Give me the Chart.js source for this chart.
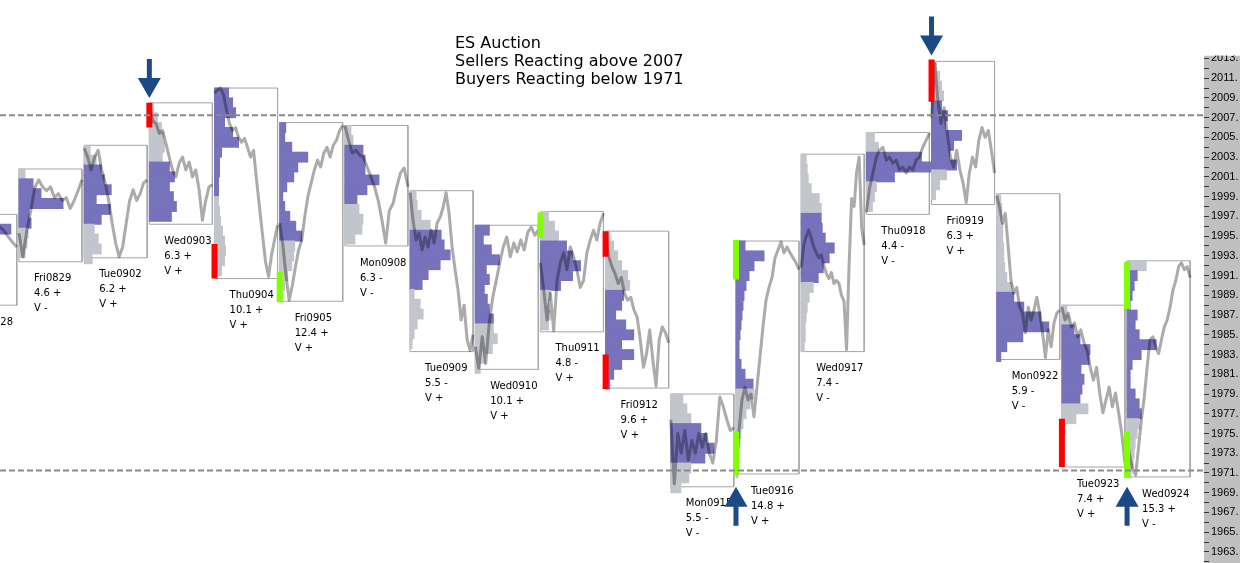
<!DOCTYPE html>
<html>
<head>
<meta charset="utf-8">
<script src="https://cdn.jsdelivr.net/npm/chart.js@4.4.0/dist/chart.umd.min.js"></script>
<style>
html, body { margin: 0; padding: 0; background: #fff; }
#wrap { position: relative; width: 1240px; height: 563px; }
#title { position: absolute; left: 455px; top: 34px; font: 16px/18px "DejaVu Sans", sans-serif; color: #000; }
</style>
</head>
<body>
<div id="wrap">
  <canvas id="auctionChart"></canvas>
  <div id="title">ES Auction<br>Sellers Reacting above 2007<br>Buyers Reacting below 1971</div>
</div>
<script>
// sessions (x = session index, box left edge)
const days = ['Thu0828','Fri0829','Tue0902','Wed0903','Thu0904','Fri0905','Mon0908','Tue0909','Wed0910','Thu0911',
              'Fri0912','Mon0915','Tue0916','Wed0917','Thu0918','Fri0919','Mon0922','Tue0923','Wed0924'];
const ranges = ['', '4.6 +', '6.2 +', '6.3 +', '10.1 +', '12.4 +', '6.3 -', '5.5 -', '10.1 +', '4.8 -',
                '9.6 +', '5.5 -', '14.8 +', '7.4 -', '4.4 -', '6.3 +', '5.9 -', '7.4 +', '15.3 +'];
const volumes = ['', 'V -', 'V +', 'V +', 'V +', 'V +', 'V -', 'V +', 'V +', 'V +',
                 'V +', 'V -', 'V +', 'V -', 'V -', 'V +', 'V -', 'V +', 'V -'];

const highs = [1997.2, 2001.8, 2004.2, 2008.5, 2010.0, 2006.5, 2006.2, 1999.6, 1996.1, 1997.5,
               1995.5, 1979.0, 1994.5, 2003.3, 2005.5, 2012.7, 1999.3, 1988.0, 1992.5];
const lows = [1988.0, 1992.4, 1992.8, 1996.2, 1990.7, 1988.4, 1994.0, 1983.3, 1981.5, 1985.3,
              1979.6, 1969.6, 1970.9, 1983.3, 1997.2, 1998.2, 1982.5, 1971.6, 1970.6];

// volume profile, one row per point from the high down
const profiles = [
  [25, 57, 30, 28, 22, 18, 12, 8, 4],
  [6, 14, 22, 44, 10, 12, 9, 8, 6],
  [6, 12, 17, 20, 27, 12, 26, 17, 10, 14, 17, 8],
  [4, 8, 12, 14, 15, 13, 20, 25, 20, 24, 27, 22],
  [14, 18, 21, 10, 18, 24, 7, 5, 5, 4, 4, 4, 5, 6, 8, 10, 11, 10, 7],
  [6, 5, 12, 28, 18, 14, 7, 3, 5, 10, 16, 22, 15, 14, 12, 8, 5, 3],
  [6, 8, 18, 20, 20, 34, 22, 12, 14, 18, 17, 10],
  [6, 7, 11, 20, 31, 34, 40, 30, 18, 12, 4, 10, 13, 7, 4, 2],
  [14, 8, 16, 24, 11, 14, 9, 12, 14, 18, 18, 22, 17, 10, 5],
  [8, 14, 18, 26, 32, 40, 32, 20, 10, 8, 10, 8],
  [4, 8, 12, 16, 22, 24, 18, 16, 10, 20, 28, 16, 28, 16, 8, 4],
  [12, 16, 20, 30, 36, 43, 34, 20, 18, 10],
  [9, 28, 18, 13, 10, 8, 7, 6, 5, 4, 3, 3, 5, 9, 17, 18, 14, 10, 7, 5, 4, 3, 3, 2],
  [5, 6, 7, 10, 18, 20, 20, 21, 24, 33, 28, 22, 17, 12, 8, 6, 5, 4, 4, 3],
  [8, 12, 55, 68, 28, 10, 8, 6],
  [5, 8, 10, 12, 10, 16, 14, 30, 22, 18, 25, 15, 8, 4],
  [4, 5, 5, 6, 6, 7, 7, 8, 10, 15, 17, 27, 44, 52, 26, 10, 4],
  [5, 7, 12, 18, 28, 27, 19, 22, 20, 18, 26, 14, 3],
  [19, 10, 7, 5, 3, 10, 8, 12, 29, 14, 5, 3, 3, 8, 12, 14, 12, 10, 8, 7, 6, 4]
];
// value area: first and last profile row inside it
const valueAreas = [[0, 6], [1, 5], [2, 7], [6, 11], [0, 10], [0, 11], [2, 7], [4, 9], [0, 9], [3, 7],
                    [6, 15], [3, 6], [0, 14], [6, 12], [2, 4], [4, 10], [10, 16], [2, 9], [1, 15]];

// intraday price path, evenly spaced across each session
const prices = [
  [null, null, null, null, null, null, null, null, null, null, 1996.0, 1995.6, 1995.0, 1994.4, 1993.9],
  [1995.3, 1992.9, 1995.6, 1997.6, 1999.9, 2000.7, 2000.0, 1999.6, 2000.0, 1998.9, 1999.3, 1998.6, 1998.9, 1997.8, 1998.6, 1999.6, 2000.7],
  [2003.9, 2003.0, 2001.7, 2003.0, 2003.7, 2001.7, 2000.4, 1998.6, 1996.3, 1994.3, 1992.9, 1993.9, 1996.3, 1998.6, 1999.7, 1998.6, 1999.3, 2000.4, 2000.7],
  [2008.3, 2006.7, 2006.4, 2005.4, 2005.7, 2004.4, 2003.0, 2001.7, 2001.0, 2002.4, 2003.0, 2001.7, 2002.5, 2001.0, 2001.7, 1999.7, 1996.6, 1998.6, 2000.0, 2000.2],
  [2009.5, 2009.8, 2010.0, 2009.3, 2007.8, 2006.4, 2005.7, 2006.0, 2005.0, 2004.5, 2004.9, 2004.0, 2003.0, 2003.7, 2000.7, 1997.9, 1995.1, 1992.4, 1990.9, 1993.1, 1994.6, 1996.1],
  [1996.3, 1994.1, 1991.0, 1988.5, 1990.0, 1991.9, 1993.6, 1994.6, 1997.1, 1999.1, 2000.4, 2001.7, 2002.7, 2002.0, 2003.4, 2004.0, 2003.0, 2004.2, 2004.7, 2005.7, 2006.2],
  [2006.2, 2004.7, 2003.4, 2003.7, 2003.2, 2003.0, 2002.0, 2001.0, 2000.0, 1998.6, 1996.6, 1994.3, 1997.6, 1998.3, 2000.0, 2001.4, 2001.9, 2000.0],
  [1999.4, 1996.6, 1994.6, 1995.3, 1993.6, 1994.9, 1993.9, 1995.6, 1994.3, 1996.3, 1996.9, 1997.9, 1999.4, 1997.3, 1993.9, 1991.6, 1989.5, 1986.5, 1988.0, 1984.5, 1983.4, 1985.0],
  [1983.8, 1981.6, 1984.8, 1982.1, 1986.2, 1988.8, 1990.5, 1992.3, 1993.9, 1994.9, 1992.9, 1994.3, 1993.4, 1994.6, 1993.6, 1995.4, 1995.9, 1995.1, 1995.6],
  [1992.3, 1989.5, 1986.5, 1989.2, 1985.4, 1990.5, 1992.3, 1993.3, 1991.6, 1993.9, 1992.9, 1991.6, 1989.8, 1990.5, 1993.3, 1994.6, 1995.6, 1994.6, 1996.3, 1997.3],
  [1995.2, 1992.9, 1991.9, 1991.2, 1990.2, 1990.8, 1989.2, 1988.5, 1988.8, 1987.5, 1986.8, 1984.5, 1981.7, 1983.1, 1985.5, 1982.4, 1979.8, 1984.5, 1985.8, 1985.2, 1984.2],
  [1976.4, 1969.9, 1975.0, 1973.0, 1975.3, 1972.3, 1974.3, 1973.0, 1975.0, 1973.6, 1975.0, 1973.0, 1972.0, 1974.3, 1978.7, 1977.7, 1976.4, 1975.3, 1975.6],
  [1971.3, 1975.3, 1978.4, 1979.7, 1978.4, 1979.0, 1976.7, 1979.7, 1982.8, 1985.8, 1988.5, 1989.8, 1990.8, 1992.8, 1993.6, 1994.4, 1993.3, 1993.9, 1993.3, 1992.8, 1992.3, 1991.6],
  [1991.8, 1994.0, 1995.0, 1995.6, 1994.8, 1993.9, 1993.3, 1992.8, 1993.1, 1992.0, 1991.2, 1990.7, 1991.3, 1990.2, 1990.5, 1990.2, 1989.0, 1988.4, 1983.5, 1992.0, 1998.8, 1998.0, 2001.5, 2003.0, 1995.8, 1994.1],
  [1997.4, 1999.9, 2001.4, 2003.0, 2003.7, 2004.0, 2002.7, 2003.0, 2002.4, 2002.7, 2001.7, 2002.0, 2001.4, 2002.0, 2001.7, 2002.7, 2003.0, 2004.0, 2004.7, 2005.4],
  [2007.0, 2012.5, 2008.8, 2006.4, 2008.0, 2005.4, 2003.0, 2002.0, 2003.7, 2001.7, 2000.4, 1998.4, 2001.4, 2003.0, 2002.0, 2004.7, 2006.0, 2005.0, 2005.7, 2003.7, 2001.4],
  [1999.1, 1997.9, 1996.3, 1997.3, 1993.9, 1990.5, 1989.2, 1989.8, 1987.8, 1987.2, 1985.2, 1987.8, 1986.5, 1987.5, 1988.8, 1987.2, 1985.2, 1982.7, 1985.5, 1983.8, 1986.2, 1987.2, 1987.5],
  [1987.8, 1986.5, 1987.2, 1985.8, 1986.2, 1984.8, 1985.5, 1984.2, 1983.4, 1981.7, 1980.4, 1981.7, 1979.1, 1977.1, 1978.4, 1979.7, 1977.7, 1979.1, 1977.1, 1975.0, 1972.0],
  [1974.3, 1972.6, 1971.3, 1970.8, 1973.6, 1976.4, 1978.7, 1981.7, 1984.5, 1984.8, 1983.8, 1983.1, 1984.5, 1985.8, 1986.5, 1987.8, 1989.5, 1990.5, 1991.9, 1992.3, 1991.6, 1991.9, 1990.8]
];

// single prints / tails at the session open
const tailDays = [3, 4, 5, 9, 10, 10, 12, 12, 15, 17, 18, 18];
const tailTops = [2008.5, 1994.2, 1991.4, 1997.4, 1995.5, 1983.0, 1994.6, 1975.2, 2012.9, 1976.5, 1992.4, 1975.2];
const tailBottoms = [2006.0, 1990.7, 1988.3, 1994.8, 1992.9, 1979.5, 1990.6, 1970.8, 2008.6, 1971.6, 1987.6, 1970.5];
const tailSides = ['sell', 'sell', 'buy', 'buy', 'sell', 'sell', 'buy', 'buy', 'sell', 'sell', 'buy', 'buy'];

const arrowDays = [3, 15, 12, 18];
const arrowTips = [2009.0, 2013.3, 1969.6, 1969.6];
const arrowDirs = ['down', 'down', 'up', 'up'];

const levels = [2007.25, 1971.25];

const X_MIN = 0.709, X_MAX = 19.18;
const Y_MIN = 1961.88, Y_MAX = 2018.92;
const BOX_W = 0.967;
const PROFILE_SCALE = 1 / 65.18;
const ROW_PX = 563 / (Y_MAX - Y_MIN);
const PANEL_TOP = 2013.3;

const datasets = [];

days.forEach((d, i) => {
  const r = i + BOX_W;
  datasets.push({
    type: 'line', order: 4,
    data: [{x: i, y: highs[i]}, {x: r, y: highs[i]}, {x: r, y: lows[i]}, {x: i, y: lows[i]}, {x: i, y: highs[i]}],
    borderColor: '#a6a6a6', borderWidth: 1
  });
});

const barData = [], barColors = [];
profiles.forEach((rows, i) => {
  rows.forEach((w, k) => {
    barData.push({y: highs[i] - 0.5 - k, x: [i, i + w * PROFILE_SCALE]});
    const inVa = k >= valueAreas[i][0] && k <= valueAreas[i][1];
    barColors.push(inVa ? '#7672bb' : '#c2c5cb');
  });
});
datasets.push({
  type: 'bar', indexAxis: 'y', order: 3,
  data: barData, backgroundColor: barColors,
  barThickness: ROW_PX, borderWidth: 0, inflateAmount: 0.5
});

prices.forEach((arr, i) => {
  const n = arr.length;
  datasets.push({
    type: 'line', order: 2, multiply: true,
    data: arr.map((p, j) => ({x: i + BOX_W * j / (n - 1), y: p})),
    borderColor: '#ababab', borderWidth: 3, borderJoinStyle: 'round'
  });
});

tailDays.forEach((d, j) => {
  datasets.push({
    type: 'line', order: 1,
    data: [{x: d, y: tailTops[j]}, {x: d, y: tailBottoms[j]}],
    borderColor: tailSides[j] === 'sell' ? '#ff0000' : '#80ff00',
    borderWidth: 6, borderCapStyle: 'butt'
  });
});

levels.forEach(v => {
  datasets.push({
    type: 'line', order: 0,
    data: [{x: X_MIN, y: v}, {x: X_MAX, y: v}],
    borderColor: '#8a8a8a', borderWidth: 2, borderDash: [6, 3]
  });
});

const isOdd = v => Math.abs(v - Math.round(v)) < 1e-6 && Math.abs(Math.round(v)) % 2 === 1;

const decor = {
  id: 'decor',
  beforeDraw(chart) {
    const {ctx, chartArea, scales: {y}} = chart;
    ctx.save();
    ctx.fillStyle = '#fff';
    ctx.fillRect(0, 0, chart.width, chart.height);
    const top = y.getPixelForValue(PANEL_TOP);
    ctx.fillStyle = '#c0c0c0';
    ctx.fillRect(chartArea.right, top, chart.width - chartArea.right, chart.height - top);
    ctx.restore();
  },
  beforeDatasetDraw(chart, args) {
    if (chart.data.datasets[args.index].multiply) {
      chart.ctx.save();
      chart.ctx.globalCompositeOperation = 'multiply';
    }
  },
  afterDatasetDraw(chart, args) {
    if (chart.data.datasets[args.index].multiply) chart.ctx.restore();
  },
  afterDatasetsDraw(chart) {
    const {ctx, scales: {x, y}} = chart;
    ctx.save();
    ctx.font = '10px "DejaVu Sans"';
    ctx.fillStyle = '#000';
    ctx.textAlign = 'left';
    ctx.textBaseline = 'middle';
    days.forEach((d, i) => {
      const lx = x.getPixelForValue(i) + 15;
      const ly = y.getPixelForValue(lows[i]) + 17;
      [d, ranges[i], volumes[i]].forEach((t, k) => ctx.fillText(t, lx, ly + 15 * k));
    });
    ctx.fillStyle = '#1b4a86';
    arrowDays.forEach((d, j) => {
      const ax = x.getPixelForValue(d);
      const tip = y.getPixelForValue(arrowTips[j]);
      const s = arrowDirs[j] === 'down' ? -1 : 1;
      ctx.beginPath();
      ctx.moveTo(ax, tip);
      ctx.lineTo(ax - 11.5, tip + s * 20);
      ctx.lineTo(ax - 2.5, tip + s * 20);
      ctx.lineTo(ax - 2.5, tip + s * 39);
      ctx.lineTo(ax + 2.5, tip + s * 39);
      ctx.lineTo(ax + 2.5, tip + s * 20);
      ctx.lineTo(ax + 11.5, tip + s * 20);
      ctx.closePath();
      ctx.fill();
    });
    ctx.restore();
  },
  afterDraw(chart) {
    const {ctx, chartArea, scales: {y}} = chart;
    ctx.save();
    ctx.fillStyle = '#fff';
    ctx.fillRect(chartArea.right, 0, chart.width - chartArea.right, y.getPixelForValue(PANEL_TOP));
    ctx.restore();
  }
};

const auctionctx = document.getElementById('auctionChart').getContext('2d');
const auctionChart = new Chart(auctionctx, {
  type: 'line',
  data: { datasets: datasets },
  options: {
    responsive: true,
    maintainAspectRatio: false,
    animation: false,
    events: [],
    layout: { padding: 0 },
    elements: { point: { radius: 0 }, line: { tension: 0 } },
    plugins: { legend: { display: false }, tooltip: { enabled: false } },
    scales: {
      x: { type: 'linear', min: X_MIN, max: X_MAX, display: false, stacked: false },
      y: {
        type: 'linear', position: 'right', min: Y_MIN, max: Y_MAX, offset: false,
        grid: {
          drawOnChartArea: false, offset: false, tickLength: 5,
          tickColor: c => (c.tick && c.tick.value <= PANEL_TOP) ? '#333' : 'rgba(0,0,0,0)'
        },
        border: { display: false },
        ticks: {
          stepSize: 1, autoSkip: false, includeBounds: false, padding: 2, color: '#000',
          font: { family: 'Liberation Sans', size: 11 },
          callback: v => (isOdd(v) && v <= 2013) ? Math.round(v) + '.' : ''
        },
        afterFit: s => { s.width = 36; s.paddingTop = 0; s.paddingBottom = 0; }
      }
    }
  },
  plugins: [decor]
});
</script>
</body>
</html>
